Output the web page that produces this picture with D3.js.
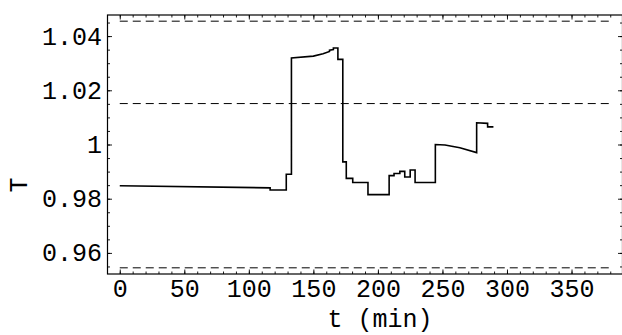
<!DOCTYPE html>
<html>
<head>
<meta charset="utf-8">
<script src="https://cdn.jsdelivr.net/npm/d3@7"></script>
<style>
  html, body { margin: 0; padding: 0; background: #fff; }
  svg { display: block; }
  text { font-family: "Liberation Mono", "Courier New", monospace; fill: #000; }
</style>
</head>
<body>
<svg width="622" height="335"></svg>
<script>
var width = 622;
var height = 335;

// step trace, vertices (t in min, Theta)
var tVals = [0, 116.5, 116.5, 129.0, 129.0, 133.0, 133.0, 150.0, 157.5, 162.5, 162.5,
    165.5, 165.5, 169.0, 169.0, 172.8, 172.8, 175.5, 175.5, 180.5, 180.5, 192.3,
    192.3, 208.7, 208.7, 212.5, 212.5, 217.0, 217.0, 220.8, 220.8, 225.0, 225.0,
    228.8, 228.8, 244.5, 244.5, 252.0, 263.5, 276.5, 276.5, 285.0, 285.0, 289.5];
var thetaVals = [0.9848, 0.9840, 0.9832, 0.9832, 0.9890, 0.9890, 1.0319, 1.0326, 1.0335, 1.0343, 1.0348,
    1.0350, 1.0356, 1.0356, 1.0314, 1.0314, 0.9936, 0.9936, 0.9875, 0.9875, 0.9860, 0.9860,
    0.9815, 0.9815, 0.9885, 0.9885, 0.9893, 0.9893, 0.9901, 0.9901, 0.9880, 0.9880, 0.9906,
    0.9906, 0.9860, 0.9860, 1.0000, 0.9998, 0.9988, 0.9970, 1.0080, 1.0078, 1.0065, 1.0065];

// dashed reference levels
var refLevels = [1.0455, 1.0151, 0.9545];
var refSpan = [0, 380];

var xTicks = [0, 50, 100, 150, 200, 250, 300, 350];
var yTicks = [0.96, 0.98, 1, 1.02, 1.04];
var yTickLabels = ["0.96", "0.98", "1", "1.02", "1.04"];

// note: "top" is taken by window.top, so plot edges get their own names
var plotL = 107.5, plotR = 622.5, plotT = 15, plotB = 274;

var x = d3.scaleLinear().domain([-9.5, 389.5]).range([plotL, plotR]);
var y = d3.scaleLinear().domain([0.95222, 1.04778]).range([plotB, plotT]);

var svg = d3.select('svg');
var chartG = svg.append('g');

// minor ticks
var xMinor = d3.range(0, 390, 10);
var yMinor = d3.range(0.955, 1.0476, 0.005);

function tickify(g) {
    g.select('.domain').remove();
    g.selectAll('.tick line').attr('stroke', '#000').attr('stroke-width', 0.9);
}

// bottom, labelled
chartG.append('g')
    .attr('transform', 'translate(0,' + plotB + ')')
    .call(d3.axisBottom(x).tickValues(xTicks).tickSize(-4.5).tickSizeOuter(0).tickPadding(5)
        .tickFormat(d3.format('d')))
    .call(tickify)
    .selectAll('text').attr('font-size', '25px').attr('font-family', null);
chartG.append('g')
    .attr('transform', 'translate(0,' + plotB + ')')
    .call(d3.axisBottom(x).tickValues(xMinor).tickSize(-2.5).tickSizeOuter(0).tickFormat(''))
    .call(tickify);

// top, ticks only
chartG.append('g')
    .attr('transform', 'translate(0,' + plotT + ')')
    .call(d3.axisTop(x).tickValues(xTicks).tickSize(-4.5).tickSizeOuter(0).tickFormat(''))
    .call(tickify);
chartG.append('g')
    .attr('transform', 'translate(0,' + plotT + ')')
    .call(d3.axisTop(x).tickValues(xMinor).tickSize(-2.5).tickSizeOuter(0).tickFormat(''))
    .call(tickify);

// left, labelled
chartG.append('g')
    .attr('transform', 'translate(' + plotL + ',0)')
    .call(d3.axisLeft(y).tickValues(yTicks).tickSize(-4.5).tickSizeOuter(0).tickPadding(5.5)
        .tickFormat(function (d, i) { return yTickLabels[i]; }))
    .call(tickify)
    .selectAll('text').attr('font-size', '25px').attr('font-family', null);
chartG.append('g')
    .attr('transform', 'translate(' + plotL + ',0)')
    .call(d3.axisLeft(y).tickValues(yMinor).tickSize(-2.5).tickSizeOuter(0).tickFormat(''))
    .call(tickify);

// right, ticks only
chartG.append('g')
    .attr('transform', 'translate(' + plotR + ',0)')
    .call(d3.axisRight(y).tickValues(yTicks).tickSize(-4.5).tickSizeOuter(0).tickFormat(''))
    .call(tickify);
chartG.append('g')
    .attr('transform', 'translate(' + plotR + ',0)')
    .call(d3.axisRight(y).tickValues(yMinor).tickSize(-2.5).tickSizeOuter(0).tickFormat(''))
    .call(tickify);

// frame
chartG.append('rect')
    .attr('x', plotL).attr('y', plotT)
    .attr('width', plotR - plotL).attr('height', plotB - plotT)
    .attr('fill', 'none').attr('stroke', '#000').attr('stroke-width', 1.2);

// dashed levels
chartG.selectAll('.ref')
    .data(refLevels)
    .enter()
    .append('line')
    .attr('class', 'ref')
    .attr('x1', x(refSpan[0])).attr('x2', x(refSpan[1]))
    .attr('y1', function (d) { return y(d); })
    .attr('y2', function (d) { return y(d); })
    .attr('stroke', '#000').attr('stroke-width', 1)
    .attr('stroke-dasharray', '8,5');

// the trace
var pts = tVals.map(function (t, i) { return [t, thetaVals[i]]; });
var line = d3.line()
    .x(function (d) { return x(d[0]); })
    .y(function (d) { return y(d[1]); });
chartG.append('path')
    .datum(pts)
    .attr('d', line)
    .attr('fill', 'none')
    .attr('stroke', '#000')
    .attr('stroke-width', 1.6)
    .attr('stroke-linejoin', 'miter');

// axis titles
chartG.append('text')
    .attr('x', 380).attr('y', 327)
    .attr('text-anchor', 'middle')
    .attr('font-size', '25px')
    .text('t (min)');
chartG.append('text')
    .attr('transform', 'translate(27,185) rotate(-90)')
    .attr('text-anchor', 'middle')
    .attr('font-size', '25px')
    .text('T');
</script>
</body>
</html>
